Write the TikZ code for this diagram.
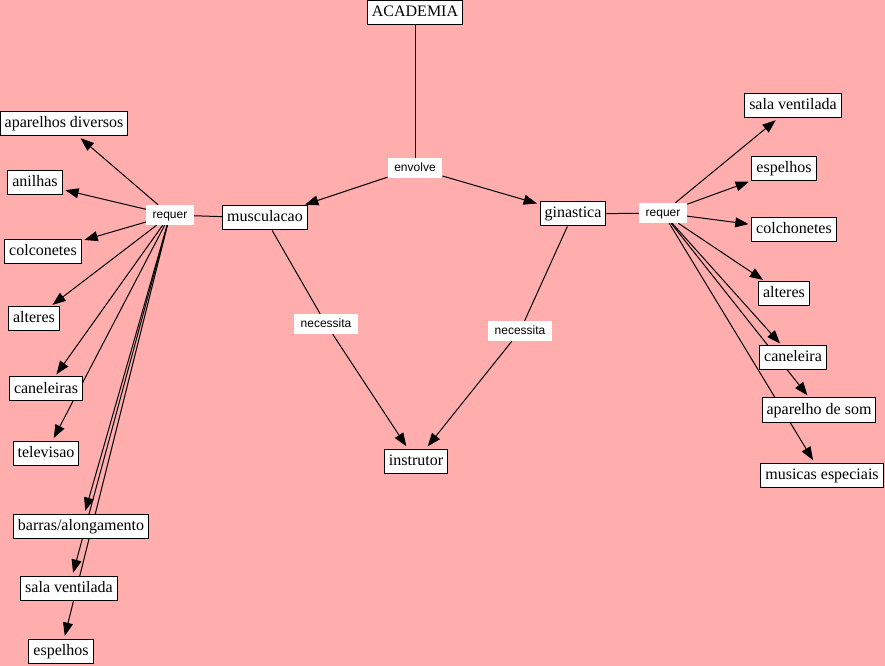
\documentclass[tikz,border=0pt]{standalone}
\usepackage{fontspec}
\setmainfont{Liberation Serif}
\newfontfamily\linkfont{Liberation Sans}
\usetikzlibrary{arrows.meta, backgrounds}
\pgfdeclarelayer{edges}
\pgfsetlayers{background,edges,main}
\definecolor{mapbg}{RGB}{255,173,173}
\tikzset{
  concept/.style={rectangle,draw=black,fill=white,line width=0.75pt,
    font=\fontsize{12}{14}\selectfont,text height=8.5pt,text depth=2.5pt,
    inner xsep=3.4pt,inner ysep=3.5pt},
  linkphrase/.style={rectangle,fill=white,
    font=\linkfont\fontsize{9}{11}\selectfont,text height=6.6pt,text depth=2pt,
    inner xsep=4.9pt,inner ysep=3.2pt},
  conn/.style={line width=0.75pt,draw=black},
  arr/.style={conn,-{Triangle[length=10pt,width=7.5pt]},shorten >=2pt}
}
\begin{document}
\begin{tikzpicture}[x=0.75pt,y=-0.75pt]
    \begin{pgfonlayer}{background}
      \fill[mapbg](0,0)rectangle(885,666);
    \end{pgfonlayer}
    \useasboundingbox(0,0)rectangle(885,666);
    % centre
    \node[concept](academia)at(415,13){ACADEMIA};
    \node[linkphrase](envolve)at(415,168){envolve};
    \node[concept](musc)at(265,218){musculacao};
    \node[concept](gin)at(573,214){ginastica};
    \node[linkphrase](necL)at(326,324){necessita};
    \node[linkphrase](necR)at(520,331){necessita};
    \node[concept](instr)at(416,461){instrutor};
    % musculacao side
    \node[linkphrase](reqL)at(170,215){requer};
    \node[concept](aparL)at(64,124){aparelhos diversos};
    \node[concept](anilL)at(35,183){anilhas};
    \node[concept](colcL)at(43,252){colconetes};
    \node[concept](altL)at(34,319){alteres};
    \node[concept](canL)at(46,389){caneleiras};
    \node[concept](telL)at(46,453){televisao};
    \node[concept](barL)at(81,526){barras/alongamento};
    \node[concept](salaL)at(69,588){sala ventilada};
    \node[concept](espL)at(61,651){espelhos};
    % ginastica side
    \node[linkphrase](reqR)at(663,213){requer};
    \node[concept](salaR)at(793,106){sala ventilada};
    \node[concept](espR)at(784,169){espelhos};
    \node[concept](colR)at(794,230){colchonetes};
    \node[concept](altR)at(784,294){alteres};
    \node[concept](canR)at(793,358){caneleira};
    \node[concept](somR)at(819,410){aparelho de som};
    \node[concept](musR)at(822,475){musicas especiais};
    % connectors
    \begin{pgfonlayer}{edges}
      \draw[conn](academia)--(envolve);
      \draw[arr](envolve)--(musc);
      \draw[arr](envolve)--(gin);
      \draw[conn](musc)--(necL);
      \draw[arr](necL)--(instr);
      \draw[conn](gin)--(necR);
      \draw[arr](necR)--(instr);
      \draw[conn](musc)--(reqL);
      \foreach \t in {aparL,anilL,colcL,altL,canL,telL,barL,salaL,espL}
        \draw[arr](reqL)--(\t);
      \draw[conn](gin)--(reqR);
      \foreach \t in {salaR,espR,colR,altR,canR,somR,musR}
        \draw[arr](reqR)--(\t);
    \end{pgfonlayer}
\end{tikzpicture}
\end{document}
